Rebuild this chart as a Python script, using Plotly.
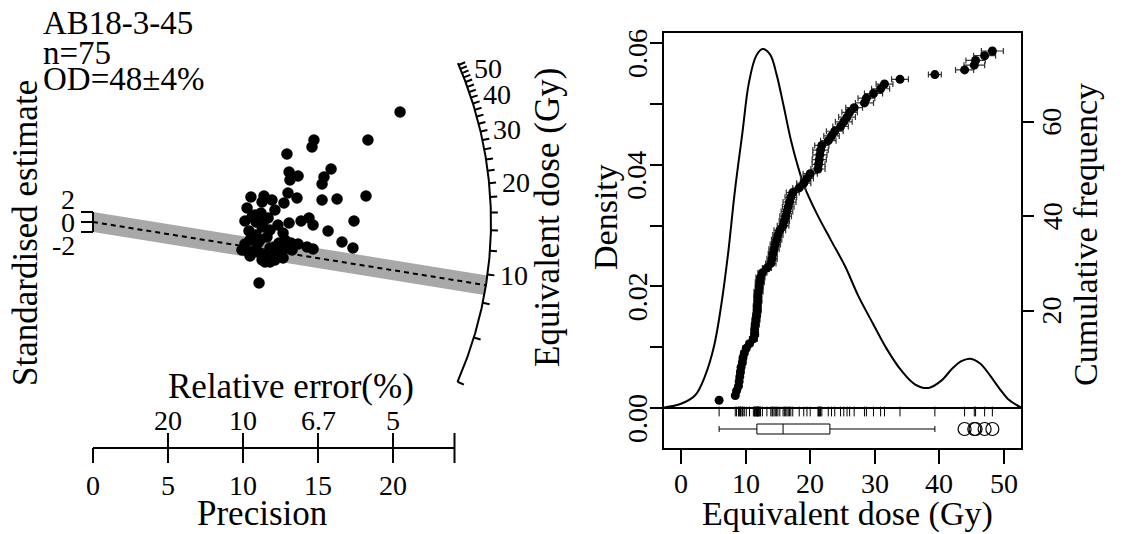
import math
import plotly.graph_objects as go

W, H = 1126, 534
FONT = "Liberation Serif"

# ------------------------------------------------------------------ data
sample_name = "AB18-3-45"
n_text = "n=75"
od_text = "OD=48±4%"

# radial plot: precision (1/relative error) and standardised estimate
radial_precision = [20.47, 18.33, 14.73, 14.60, 12.93, 15.87, 15.40, 15.27, 13.07, 13.67,
                    13.13, 13.00, 13.60, 12.73, 16.27, 15.27, 18.20, 13.87, 14.40, 14.67,
                    13.07, 17.40, 15.67, 16.60, 17.33, 10.53, 11.40, 11.93, 11.27, 12.13,
                    10.27, 10.60, 11.20, 10.13, 10.87, 10.40, 11.27, 11.60, 10.60, 11.00,
                    12.40, 13.20, 13.67, 14.27, 14.67, 11.80, 12.67, 9.93, 10.27, 11.13,
                    11.47, 12.13, 12.67, 11.07, 10.80, 11.33, 11.80, 12.67, 10.47, 11.13,
                    12.13, 10.80, 13.00, 11.53, 12.00, 12.33, 10.47, 13.27, 11.67, 12.33,
                    12.80, 11.27, 10.13, 10.87, 11.80]
radial_std_estimate = [22.0, 16.4, 16.4, 15.0, 13.6, 10.6, 9.0, 7.6, 10.0, 9.2,
                       8.4, 5.8, 4.8, 3.8, 4.6, 4.4, 5.2, 0.2, 0.8, -0.6,
                       -0.2, 0.2, -1.8, -4.0, -5.2, 5.0, 5.2, 4.4, 4.0, 2.4,
                       2.8, 1.0, 1.8, 0.2, 0.0, -1.8, -1.0, -3.0, -3.2, -4.2,
                       -4.2, -4.2, -4.4, -5.0, -5.4, -5.2, -5.6, -5.6, -5.8, -6.2,
                       -8.0, -7.6, -7.2, -12.2, 1.4, -0.2, -1.6, -2.2, -3.6, -3.6,
                       -5.0, -5.6, -5.2, -6.6, -6.8, -6.2, -6.8, -5.6, 0.8, -0.6,
                       -3.6, -7.6, -4.4, -2.6, -8.0]

z_centre_dose = 14.9          # dose the radial plot is standardised on
central_line_dose = 9.2       # dashed central line
z_arc_limits = [4.0, 55.0]
z_tick_doses = [4, 6, 8, 10, 12, 14, 16, 18, 20, 22, 24, 26, 28, 30, 32, 34, 36, 38,
                40, 42, 44, 46, 48, 50, 52, 54]
z_label_doses = [10, 20, 30, 40, 50]
precision_ticks = [0, 5, 10, 15, 20]
precision_axis_end = 24.1
rel_error_tick_precision = [5, 10, 15, 20]
rel_error_labels = ["20", "10", "6.7", "5"]
std_ticks = [-2, 0, 2]
std_labels = ["-2", "0", "2"]

# KDE / cumulative plot (right)
de_values = [5.9, 8.4, 8.6, 8.9, 9.0, 9.1, 9.2, 9.3, 9.5, 9.6,
             9.8, 10.1, 10.6, 11.2, 11.4, 11.4, 11.5, 11.6, 11.7, 11.8,
             11.8, 11.9, 11.9, 12.0, 12.1, 12.2, 12.3, 12.6, 13.3, 13.9,
             14.1, 14.2, 14.4, 14.6, 14.8, 15.0, 15.3, 15.8, 16.0, 16.2,
             16.4, 16.6, 16.8, 17.0, 17.3, 18.3, 19.0, 19.5, 20.0, 21.2,
             21.3, 21.4, 21.5, 21.6, 21.8, 22.8, 23.3, 23.8, 24.7, 25.2,
             25.7, 26.1, 26.8, 28.4, 28.7, 29.8, 30.9, 31.5, 33.9, 39.3,
             43.9, 45.4, 45.6, 47.0, 48.2]
de_errors = [0.3, 0.4, 0.4, 0.4, 0.4, 0.4, 0.5, 0.4, 0.5, 0.5,
             0.5, 0.5, 0.5, 0.6, 0.6, 0.5, 0.6, 0.6, 0.6, 0.6,
             0.6, 0.6, 0.6, 0.7, 0.6, 0.7, 0.7, 0.7, 0.7, 0.8,
             0.8, 0.7, 0.8, 0.8, 0.8, 0.8, 0.9, 0.9, 0.8, 0.9,
             0.9, 0.9, 1.0, 0.9, 1.0, 1.0, 1.1, 1.0, 1.1, 1.1,
             1.0, 1.1, 1.1, 1.2, 1.1, 1.2, 1.2, 1.3, 1.2, 1.3,
             1.3, 1.2, 1.3, 1.4, 1.3, 1.4, 1.4, 1.3, 1.3, 1.0,
             1.4, 1.6, 1.5, 1.7, 1.7]
kde_dose = [-2.6, 0.0, 2.2, 3.7, 5.1, 6.2, 7.3, 8.3, 9.5, 10.5, 11.6, 12.6, 13.8,
            14.8, 15.9, 17.0, 18.1, 19.1, 21.0, 23.2, 25.4, 27.5, 29.7, 31.8, 34.0,
            36.2, 38.3, 40.3, 42.0, 43.4, 44.8, 46.3, 47.8, 49.3, 50.8, 52.6]
kde_density = [0.0001, 0.0007, 0.0021, 0.0052, 0.0101, 0.0167, 0.0255, 0.0353, 0.0452,
               0.0534, 0.0578, 0.0590, 0.0581, 0.0548, 0.0496, 0.0441, 0.0397, 0.0364,
               0.0320, 0.0276, 0.0233, 0.0183, 0.0139, 0.0098, 0.0063, 0.0039, 0.0033,
               0.0045, 0.0065, 0.0077, 0.0081, 0.0073, 0.0054, 0.0032, 0.0013, 0.0001]
dose_ticks = [0, 10, 20, 30, 40, 50]
density_ticks = [0.00, 0.01, 0.02, 0.03, 0.04, 0.05, 0.06]
density_label_vals = [0.00, 0.02, 0.04, 0.06]
density_labels = ["0.00", "0.02", "0.04", "0.06"]
cum_ticks = [20, 40, 60]

# ------------------------------------------------------------------ geometry (pixels)
OX, OY = 93, 222          # radial plot origin
SX, SY = 15.0, 5.0        # px per precision unit / per standardised unit
R_ARC = 398.0
AX_Y = 448                # precision axis line

BOX_L, BOX_R, BOX_T, BOX_B = 664, 1021, 33, 448
DOSE0_PX, DOSE_SCALE = 681, 6.46
DENS0_PX, DENS_SCALE = 408, 365 / 0.06
CUM0_PX, CUM_SCALE = 405, 4.72
BOXPLOT_PX = 429
RUG_PX = 411.5


def pxp(px):
    return px / W


def pyp(py):
    return 1 - py / H


def uy(py):  # pixel row -> standardised estimate
    return (OY - py) / SY


def phi_of(dose):
    return math.atan((math.log(dose) - math.log(z_centre_dose)) * SY / SX)


def arc_pt(phi, r):
    return r * math.cos(phi) / SX, r * math.sin(phi) / SY


fig = go.Figure()
line_k = dict(color="black", width=2)

# grey ±2 band
k = (math.log(central_line_dose) - math.log(z_centre_dose)) * SY / SX
band_x, band_y = [0], [2]
for b in (2 * SY, -2 * SY):
    Xi = (-k * b + math.sqrt(k * k * b * b - (1 + k * k) * (b * b - R_ARC ** 2))) / (1 + k * k)
    band_x.append(Xi / SX)
    band_y.append((k * Xi + b) / SY)
band_x += [0, 0]
band_y += [-2, 2]
fig.add_trace(go.Scatter(x=band_x, y=band_y, fill="toself", fillcolor="#a8a8a8",
                         line=dict(width=0), mode="lines", hoverinfo="skip"))
# dashed central line
pc = phi_of(central_line_dose)
ex, ey = arc_pt(pc, R_ARC)
fig.add_trace(go.Scatter(x=[0, ex], y=[0, ey], mode="lines",
                         line=dict(color="black", width=2, dash="5px,4px")))
# z arc
p0, p1 = phi_of(z_arc_limits[0]), phi_of(z_arc_limits[1])
ax_, ay_ = [], []
for i in range(201):
    p = p0 + (p1 - p0) * i / 200
    a, b = arc_pt(p, R_ARC)
    ax_.append(a)
    ay_.append(b)
fig.add_trace(go.Scatter(x=ax_, y=ay_, mode="lines", line=line_k))
tx, ty = [], []
for d in z_tick_doses:
    p = phi_of(d)
    a0, b0 = arc_pt(p, R_ARC)
    a1, b1 = arc_pt(p, R_ARC + 7)
    tx += [a0, a1, None]
    ty += [b0, b1, None]
fig.add_trace(go.Scatter(x=tx, y=ty, mode="lines", line=line_k))
# standardised bracket
bx, by = [0, 0, None], [-2, 2, None]
for t in std_ticks:
    bx += [0, -12 / SX, None]
    by += [t, t, None]
fig.add_trace(go.Scatter(x=bx, y=by, mode="lines", line=line_k))
# precision axis
px_, py_ = [0, precision_axis_end, None], [uy(AX_Y), uy(AX_Y), None]
for t in precision_ticks + [precision_axis_end]:
    px_ += [t, t, None]
    py_ += [uy(AX_Y), uy(AX_Y + 15), None]
for t in rel_error_tick_precision + [precision_axis_end]:
    px_ += [t, t, None]
    py_ += [uy(AX_Y), uy(AX_Y - 15), None]
fig.add_trace(go.Scatter(x=px_, y=py_, mode="lines", line=line_k))
# radial points
fig.add_trace(go.Scatter(x=radial_precision, y=radial_std_estimate, mode="markers",
                         marker=dict(size=11.5, color="black")))

# ---------------- right panel
fig.add_trace(go.Scatter(x=kde_dose, y=kde_density, mode="lines", xaxis="x2", yaxis="y2",
                         line=dict(color="black", width=2, shape="spline", smoothing=1.0)))
rank = list(range(1, len(de_values) + 1))
fig.add_trace(go.Scatter(x=de_values, y=rank, mode="markers", xaxis="x2", yaxis="y3",
                         marker=dict(size=9, color="black"),
                         error_x=dict(type="data", array=de_errors, color="#333333",
                                      thickness=1.2, width=3)))
fig.add_trace(go.Scatter(x=de_values, y=[-(RUG_PX - DENS0_PX) / DENS_SCALE] * len(de_values),
                         mode="markers", xaxis="x2", yaxis="y2",
                         marker=dict(symbol="line-ns-open", size=7, color="black",
                                     line=dict(width=1, color="black"))))
fig.add_trace(go.Box(x=de_values, y0=0, orientation="h", xaxis="x2", yaxis="y4",
                     width=10, whiskerwidth=0.6, boxpoints="outliers", pointpos=0, jitter=0,
                     quartilemethod="inclusive", fillcolor="white",
                     line=dict(color="black", width=1),
                     marker=dict(symbol="circle-open", size=13, color="black",
                                 line=dict(width=1.2, color="black"))))

# ---------------- annotations
ann = []


def txt(text, x, y, size, xref="paper", yref="paper", angle=0, xanchor="center", yanchor="middle"):
    ann.append(dict(text=text, x=x, y=y, xref=xref, yref=yref, showarrow=False,
                    textangle=angle, xanchor=xanchor, yanchor=yanchor,
                    font=dict(family=FONT, size=size, color="black")))


TICK_FS, TITLE_FS, TITLE_R_FS = 28, 35, 34
txt(sample_name, pxp(41), pyp(23), 33, xanchor="left")
txt(n_text, pxp(41), pyp(53), 33, xanchor="left")
txt(od_text, pxp(41), pyp(79), 33, xanchor="left")
txt("Standardised estimate", pxp(25), pyp(233), TITLE_FS, angle=-90)
for v, lab in zip(std_ticks, std_labels):
    txt(lab, -16 / SX, v * 2.3, TICK_FS, xref="x", yref="y", xanchor="right")
for v in precision_ticks:
    txt(str(v), v, pyp(485), TICK_FS, xref="x")
for v, lab in zip(rel_error_tick_precision, rel_error_labels):
    txt(lab, v, pyp(420), TICK_FS, xref="x")
txt("Relative error(%)", pxp(291), pyp(386), TITLE_FS)
txt("Precision", pxp(262), pyp(513), TITLE_FS)
for d in z_label_doses:
    a, b = arc_pt(phi_of(d), R_ARC + 11)
    txt(str(d), a, b, TICK_FS, xref="x", yref="y", xanchor="left")
txt("Equivalent dose (Gy)", pxp(547), pyp(218), TITLE_FS, angle=-90)

for v in dose_ticks:
    txt(str(v), v, pyp(483), TICK_FS, xref="x2")
txt("Equivalent dose (Gy)", pxp(847), pyp(514), TITLE_R_FS)
for v, lab in zip(density_label_vals, density_labels):
    py = DENS0_PX - v * DENS_SCALE + 11
    txt(lab, pxp(637), pyp(py), TICK_FS, angle=-90)
for v in cum_ticks:
    txt(str(v), pxp(1052), v, TICK_FS, yref="y3", angle=-90)
txt("Density", pxp(605), pyp(217), TITLE_R_FS, angle=-90)
txt("Cumulative frequency", pxp(1085), pyp(235), TITLE_R_FS, angle=-90)

hidden = dict(visible=False, showgrid=False, zeroline=False)
fig.update_layout(
    width=W, height=H, autosize=False, margin=dict(l=0, r=0, t=0, b=0, pad=0),
    paper_bgcolor="white", plot_bgcolor="rgba(0,0,0,0)", showlegend=False,
    xaxis=dict(domain=[0, 1], range=[-OX / SX, (W - OX) / SX], **hidden),
    yaxis=dict(domain=[0, 1], range=[(OY - H) / SY, OY / SY], **hidden),
    xaxis2=dict(domain=[BOX_L / W, BOX_R / W], anchor="y2",
                range=[(BOX_L - DOSE0_PX) / DOSE_SCALE, (BOX_R - DOSE0_PX) / DOSE_SCALE],
                showline=True, mirror=True, linecolor="black", linewidth=2,
                ticks="outside", ticklen=14, tickwidth=2, tickcolor="black",
                tickvals=dose_ticks, showticklabels=False, showgrid=False, zeroline=False),
    yaxis2=dict(domain=[1 - BOX_B / H, 1 - BOX_T / H], anchor="x2",
                range=[(DENS0_PX - BOX_B) / DENS_SCALE, (DENS0_PX - BOX_T) / DENS_SCALE],
                showline=True, mirror=True, linecolor="black", linewidth=2,
                ticks="outside", ticklen=12, tickwidth=2, tickcolor="black",
                tickvals=density_ticks, showticklabels=False, showgrid=False,
                zeroline=True, zerolinecolor="black", zerolinewidth=2),
    yaxis3=dict(overlaying="y2", side="right", anchor="x2",
                range=[(CUM0_PX - BOX_B) / CUM_SCALE, (CUM0_PX - BOX_T) / CUM_SCALE],
                ticks="outside", ticklen=12, tickwidth=2, tickcolor="black",
                tickvals=cum_ticks, showticklabels=False, showgrid=False,
                zeroline=False, showline=False),
    yaxis4=dict(overlaying="y2", anchor="x2", range=[-(BOX_B - BOXPLOT_PX), BOXPLOT_PX - BOX_T],
                **hidden),
    annotations=ann,
)
fig.write_html("out.html")
